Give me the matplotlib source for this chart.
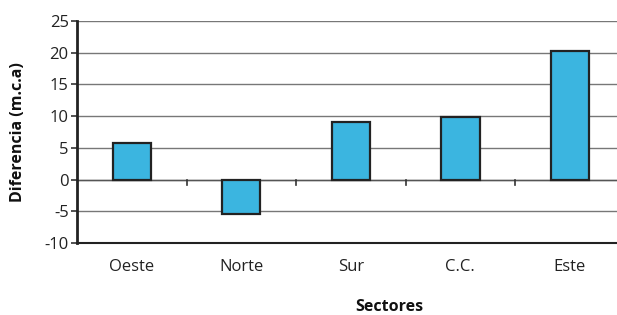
import matplotlib
matplotlib.use("Agg")
import matplotlib.pyplot as plt
import numpy as np

categories = ["Oeste", "Norte", "Sur", "C.C.", "Este"]
values = [5.8, -5.4, 9.1, 9.8, 20.3]
yticks = [-10, -5, 0, 5, 10, 15, 20, 25]

plt.rcParams['font.family'] = ['Open Sans', 'DejaVu Sans']

fig = plt.figure(figsize=(6.17, 3.15), dpi=100)
ax = fig.add_axes([77/617, 1 - 243/315, (617 - 77)/617, (243 - 21)/315])

x = np.arange(len(categories))
ax.bar(x, values, width=0.35, color="#3BB5E0", edgecolor="#222222", linewidth=1.6, zorder=3)

ax.set_ylim(-10, 25)
ax.set_xlim(-0.5, 4.43)
ax.set_yticks(yticks)
ax.set_yticklabels([str(v) for v in yticks], fontsize=12, color="#222222")
ax.yaxis.grid(True, color="#777777", linewidth=1.0, zorder=0)
ax.set_axisbelow(True)

ax.set_xticks([])
# zero line with boundary ticks
ax.axhline(0, color="#555555", linewidth=1.0, zorder=2)
for b in np.arange(0.5, len(categories) - 0.5, 1.0):
    ax.plot([b, b], [0, -0.9], color="#333333", linewidth=1.2, zorder=2, clip_on=False)

for xi, c in zip(x, categories):
    ax.text(xi, -12.6, c, ha="center", va="top", fontsize=12, color="#222222")

for s in ["top", "right"]:
    ax.spines[s].set_visible(False)
ax.spines["left"].set_linewidth(2.0)
ax.spines["left"].set_color("#222222")
ax.spines["bottom"].set_linewidth(1.5)
ax.spines["bottom"].set_color("#222222")
ax.tick_params(axis="y", length=4, width=1.2, color="#333333", pad=2)

fig.text(18/617, 1 - 132/315, "Diferencia (m.c.a)", rotation=90, ha="center", va="center",
         fontsize=11.5, fontweight="bold", color="#111111")
fig.text(389/617, 1 - 307/315, "Sectores", ha="center", va="center",
         fontsize=11.5, fontweight="bold", color="#111111")

fig.savefig("out.png", dpi=100)
